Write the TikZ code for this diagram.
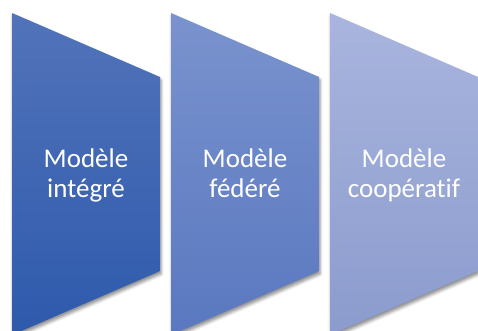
\documentclass[tikz,border=0pt]{standalone}
\usepackage{fontspec}
\setmainfont{Carlito}[RawFeature={-liga,-calt,-dlig,-clig}]
\usetikzlibrary{shadows.blur}
\definecolor{aTop}{HTML}{5273BA}
\definecolor{aBot}{HTML}{2E5AAC}
\definecolor{bTop}{HTML}{7A93CE}
\definecolor{bBot}{HTML}{5A78C0}
\definecolor{cTop}{HTML}{A9B5DE}
\definecolor{cBot}{HTML}{8B9BCD}
\newcommand{\lnstrut}{\rule[-8pt]{0pt}{30pt}}
\tikzset{
  chev/.style={blur shadow={shadow xshift=1pt, shadow yshift=-3pt, shadow blur radius=3pt, shadow opacity=45}},
  lbl/.style={text=white, align=center, inner sep=0pt, font=\fontsize{27}{30}\selectfont}
}
\begin{document}
\begin{tikzpicture}[x=1pt,y=-1pt]
\useasboundingbox (0,0) rectangle (478,331);
\foreach \x/\c in {12/a,171/b,330/c}{
  \path[chev, top color=\c Top, bottom color=\c Bot]
    (\x,13) -- (\x+148,77) -- (\x+148,271) -- (\x,335) -- cycle;
}
\node[lbl] (t1) at (86,175) {\lnstrut Modèle\\\lnstrut intégré};
\node[lbl] (t2) at (245,175) {\lnstrut Modèle\\\lnstrut fédéré};
\node[lbl] (t3) at (404,175) {\lnstrut Modèle\\\lnstrut coopératif};
\end{tikzpicture}
\end{document}
